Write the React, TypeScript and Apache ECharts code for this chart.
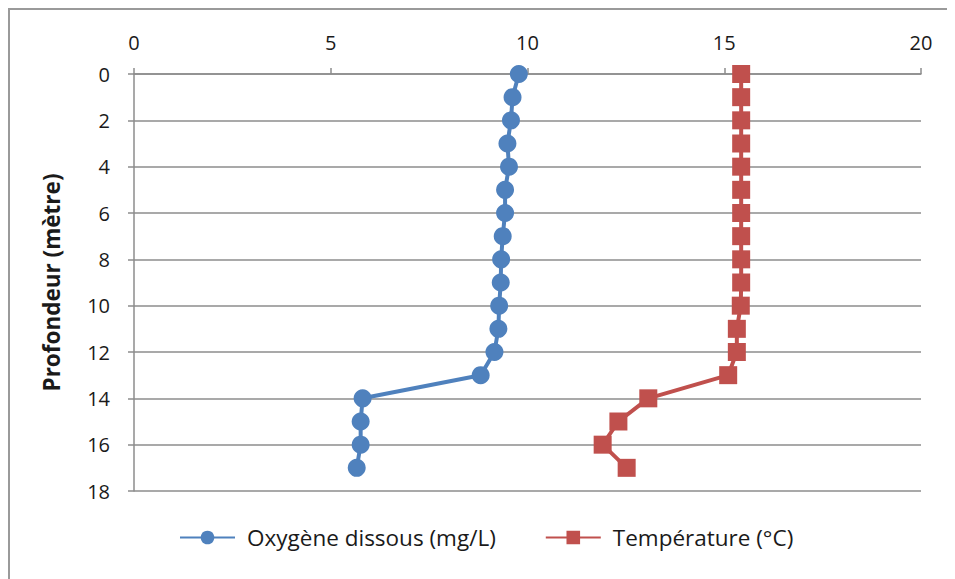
import React, { useEffect, useRef } from "react";
import * as echarts from "echarts";

const depths = [0, 1, 2, 3, 4, 5, 6, 7, 8, 9, 10, 11, 12, 13, 14, 15, 16, 17];
const oxygen = [9.78, 9.62, 9.58, 9.49, 9.53, 9.43, 9.43, 9.37, 9.33, 9.32, 9.28, 9.26, 9.16, 8.81, 5.81, 5.76, 5.76, 5.66];
const temperature = [15.43, 15.43, 15.43, 15.43, 15.43, 15.43, 15.43, 15.43, 15.43, 15.43, 15.42, 15.32, 15.32, 15.1, 13.07, 12.31, 11.91, 12.52];
const seriesNames = ["Oxygène dissous (mg/L)", "Température (°C)"];
const yAxisTitle = "Profondeur (mètre)";

const FONT = "'Open Sans', 'Noto Sans', sans-serif";
const GRID_COLOR = "#8c8c8c";
const TEXT_COLOR = "#1a1a1a";

export default function App() {
  const ref = useRef<HTMLDivElement>(null);
  useEffect(() => {
    if (!ref.current) return;
    const chart = echarts.init(ref.current, null, { renderer: "svg" });
    chart.setOption({
      animation: false,
      backgroundColor: "#ffffff",
      textStyle: { fontFamily: FONT },
      grid: { left: 124, top: 64, right: 34, bottom: 88, containLabel: false },
      legend: {
        left: 164,
        top: 511,
        itemWidth: 55,
        itemHeight: 17,
        itemGap: 49,
        textStyle: { fontFamily: FONT, fontSize: 22.5, color: TEXT_COLOR, padding: [0, 0, 0, 7] },
        data: seriesNames,
      },
      xAxis: {
        type: "value",
        position: "top",
        min: 0,
        max: 20,
        interval: 5,
        axisLine: { show: true, lineStyle: { color: GRID_COLOR, width: 1.5 } },
        axisTick: { show: true, length: 6, lineStyle: { color: GRID_COLOR, width: 1.5 } },
        axisLabel: { margin: 22, fontSize: 20, color: TEXT_COLOR, fontFamily: FONT },
        splitLine: { show: false },
      },
      yAxis: {
        type: "value",
        inverse: true,
        min: 0,
        max: 18,
        interval: 2,
        name: yAxisTitle,
        nameLocation: "middle",
        nameGap: 71,
        nameTextStyle: { fontSize: 22.5, fontWeight: "bold", color: TEXT_COLOR, fontFamily: FONT },
        axisLine: { show: true, lineStyle: { color: GRID_COLOR, width: 1.5 } },
        axisTick: { show: true, length: 6, lineStyle: { color: GRID_COLOR, width: 1.5 } },
        axisLabel: { margin: 24, fontSize: 20, color: TEXT_COLOR, fontFamily: FONT },
        splitLine: { show: true, lineStyle: { color: GRID_COLOR, width: 1.5 } },
      },
      series: [
        {
          name: seriesNames[0],
          type: "line",
          data: depths.map((d, i) => [oxygen[i], d]),
          symbol: "circle",
          symbolSize: 18,
          lineStyle: { color: "#4f81bd", width: 4 },
          itemStyle: { color: "#4f81bd" },
        },
        {
          name: seriesNames[1],
          type: "line",
          data: depths.map((d, i) => [temperature[i], d]),
          symbol: "rect",
          symbolSize: 18,
          lineStyle: { color: "#c0504d", width: 4 },
          itemStyle: { color: "#c0504d" },
        },
      ],
    });
    return () => chart.dispose();
  }, []);
  return (
    <div
      style={{
        width: 947,
        height: 571,
        borderLeft: "2px solid #9a9a9a",
        borderTop: "2px solid #9a9a9a",
        boxSizing: "border-box",
        overflow: "hidden",
      }}
    >
      <div ref={ref} style={{ width: 945, height: 569 }} />
    </div>
  );
}
